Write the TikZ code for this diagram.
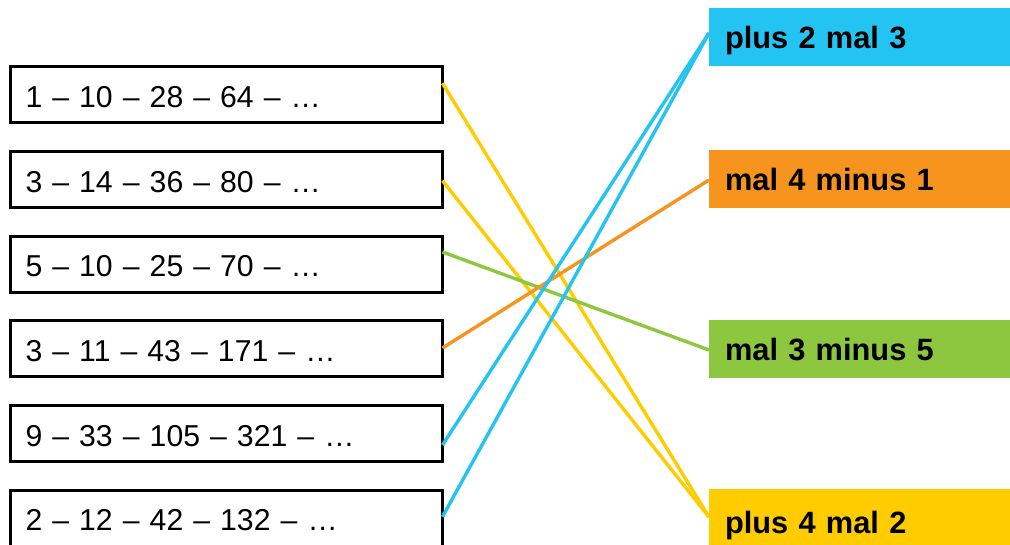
\documentclass[tikz,border=0pt]{standalone}
\usepackage{fontspec}
\setmainfont{Liberation Sans}
\definecolor{cblue}{HTML}{24C4F2}
\definecolor{corange}{HTML}{F7941E}
\definecolor{cgreen}{HTML}{8DC63F}
\definecolor{cyellow}{HTML}{FFCC00}
\tikzset{
  seqbox/.style={draw=black, line width=3pt, minimum width=432pt, minimum height=56pt,
    inner xsep=15pt, inner ysep=0pt, outer sep=0pt, text width=402pt, align=left,
    text height=25pt, text depth=0pt, font=\fontsize{30.2}{36}\selectfont},
  rulebox/.style={fill=#1, draw=none, minimum width=310pt, minimum height=58pt,
    inner xsep=16pt, inner ysep=0pt, outer sep=0pt, text width=278pt, align=left,
    text height=24pt, text depth=0pt, font=\fontsize{30.8}{37}\selectfont\bfseries, anchor=west},
  link/.style={draw=#1, line width=3.4pt}
}
\begin{document}
\begin{tikzpicture}[x=1pt,y=1pt]
\useasboundingbox (0,0) rectangle (1010,544);
\clip (0,0) rectangle (1010,544);
% left boxes
\node[seqbox] (l1) at (226.5,449)   {1 – 10 – 28 – 64 – …};
\node[seqbox] (l2) at (226.5,364.3) {3 – 14 – 36 – 80 – …};
\node[seqbox] (l3) at (226.5,279.7) {5 – 10 – 25 – 70 – …};
\node[seqbox] (l4) at (226.5,195)   {3 – 11 – 43 – 171 – …};
\node[seqbox] (l5) at (226.5,110.3) {9 – 33 – 105 – 321 – …};
\node[seqbox] (l6) at (226.5,25.7)  {2 – 12 – 42 – 132 – …};
% right boxes
\node[rulebox=cblue]   (r1) at (709,507) {plus 2 mal 3};
\node[rulebox=corange] (r2) at (709,365) {mal 4 minus 1};
\node[rulebox=cgreen]  (r3) at (709,195) {mal 3 minus 5};
\node[rulebox=cyellow, minimum height=64pt] (r4) at (709,23) {plus 4 mal 2};
% connectors
\draw[link=cyellow] ([yshift=11.7pt]l1.east) -- ([yshift=4pt]r4.west);
\draw[link=cyellow] ([yshift=-1pt]l2.east) -- ([yshift=4pt]r4.west);
\draw[link=cgreen]  ([yshift=12.3pt]l3.east) -- ([yshift=-1pt]r3.west);
\draw[link=corange] ([yshift=1pt]l4.east) -- ([yshift=-1pt]r2.west);
\draw[link=cblue]   ([yshift=-11.3pt]l5.east) -- ([yshift=4pt]r1.west);
\draw[link=cblue]   ([yshift=1.6pt]l6.east) -- ([yshift=4pt]r1.west);
\end{tikzpicture}
\end{document}
